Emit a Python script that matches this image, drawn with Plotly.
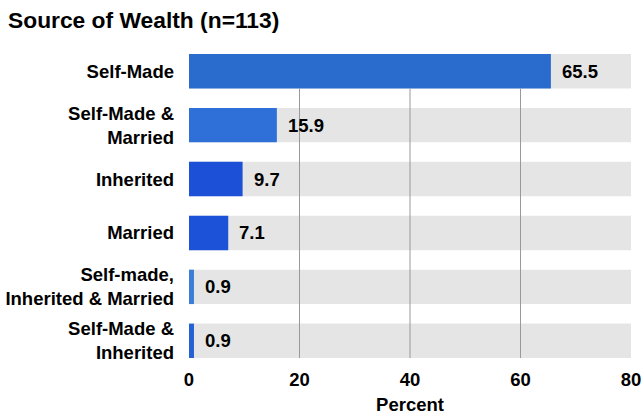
import plotly.graph_objects as go

categories = ["Self-Made", "Self-Made &<br>Married", "Inherited", "Married",
              "Self-made,<br>Inherited & Married", "Self-Made &<br>Inherited"]
values = [65.5, 15.9, 9.7, 7.1, 0.9, 0.9]
value_labels = ["65.5", "15.9", "9.7", "7.1", "0.9", "0.9"]
bar_colors = ["#2a6ccd", "#2e6fd8", "#1c50d6", "#1c52d8", "#3a7ed8", "#2560d4"]
x_ticks = [0, 20, 40, 60, 80]
grid_ticks = [20, 40, 60]
x_max = 80

FONT = "Liberation Sans, Arial, Helvetica, sans-serif"
bar_frac = 0.638
half = bar_frac / 2
n = len(categories)

fig = go.Figure()
# gray track behind each bar (full axis length)
fig.add_trace(go.Bar(
    y=categories, x=[x_max] * n, orientation="h",
    marker=dict(color="#e5e5e5", line=dict(width=0)),
    width=bar_frac, hoverinfo="skip",
))
fig.add_trace(go.Bar(
    y=categories, x=values, orientation="h",
    marker=dict(color=bar_colors, line=dict(width=0)),
    width=bar_frac, hoverinfo="skip",
))

# vertical grid lines drawn over the gray tracks but not over the blue bars
shapes = []
top, bottom = -half, n - 1 + half
for g in grid_ticks:
    covered = sorted((i - half, i + half) for i, v in enumerate(values) if v >= g)
    start = top
    for a, b in covered:
        if a > start:
            shapes.append(dict(type="line", xref="x", yref="y", layer="above",
                               x0=g, x1=g, y0=start, y1=a,
                               line=dict(color="#999999", width=1)))
        start = max(start, b)
    if start < bottom:
        shapes.append(dict(type="line", xref="x", yref="y", layer="above",
                           x0=g, x1=g, y0=start, y1=bottom,
                           line=dict(color="#999999", width=1)))

annotations = []
for c, v, t in zip(categories, values, value_labels):
    annotations.append(dict(x=v, y=c, xref="x", yref="y", text="<b>%s</b>" % t,
                            showarrow=False, xanchor="left", yanchor="middle",
                            xshift=9, font=dict(family=FONT, size=18.5, color="#000")))

fig.update_layout(
    width=642, height=419,
    margin=dict(l=189, r=11, t=54, b=61),
    paper_bgcolor="white", plot_bgcolor="white",
    showlegend=False, barmode="overlay",
    shapes=shapes, annotations=annotations,
    font=dict(family=FONT, size=18, color="#000"),
    title=dict(text="<b>Source of Wealth (n=113)</b>", x=8/642, xanchor="left",
               xref="container", y=1 - 20/419, yanchor="middle",
               font=dict(family=FONT, size=22.8, color="#000")),
    xaxis=dict(range=[0, x_max], tickvals=x_ticks,
               ticktext=["<b>%d</b>" % t for t in x_ticks],
               showgrid=False, zeroline=False, showline=False, automargin=False,
               ticks="outside", ticklen=5, tickcolor="rgba(0,0,0,0)",
               tickfont=dict(family=FONT, size=18.5, color="#000"),
               title=dict(text="<b>Percent</b>", standoff=8,
                          font=dict(family=FONT, size=18.5, color="#000"))),
    yaxis=dict(range=[bottom, top], categoryorder="array",
               categoryarray=categories, automargin=False,
               ticktext=["<b>%s</b>" % c for c in categories], tickvals=categories,
               showgrid=False, zeroline=False, showline=False,
               ticks="", ticklabelstandoff=14,
               tickfont=dict(family=FONT, size=18.5, color="#000")),
)

fig.write_html("out.html", config={"displayModeBar": False},
               post_script="document.body.style.margin='0';")
